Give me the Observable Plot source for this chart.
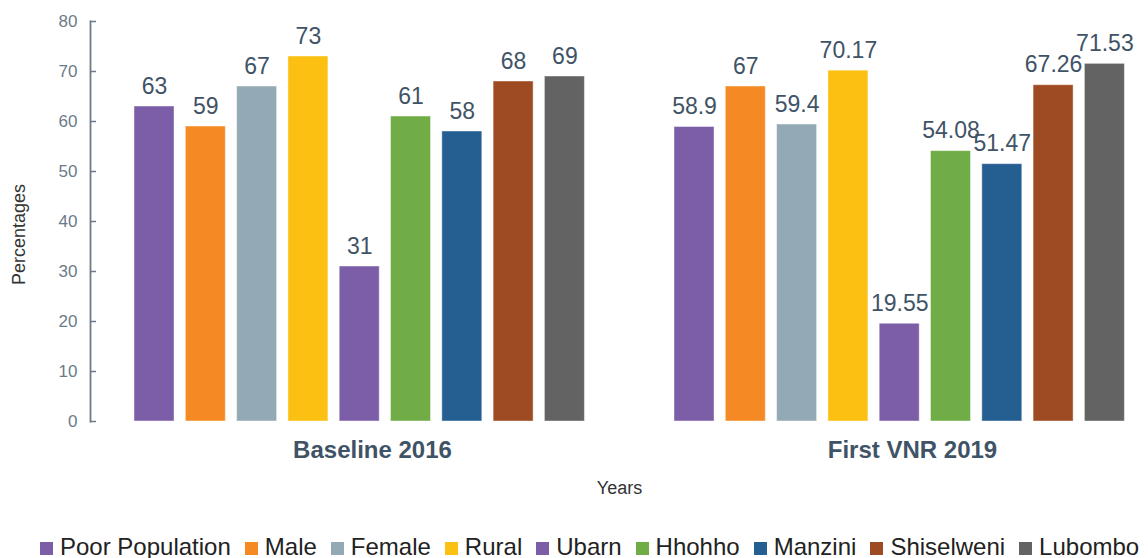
<!DOCTYPE html>
<html><head><meta charset="utf-8">
<script src="https://cdn.jsdelivr.net/npm/d3@7"></script>
<script src="https://cdn.jsdelivr.net/npm/@observablehq/plot@0.6"></script>
<style>
html,body{margin:0;padding:0;background:#fff;overflow:hidden}
body{font-family:"Liberation Sans",Arial,sans-serif;width:1148px;height:558px;position:relative}
#legend{position:absolute;left:40px;top:533px;white-space:nowrap;font-size:24px;color:#222;line-height:28px}
#legend .item{display:inline-flex;align-items:center;margin-right:14px}
#legend .sw{width:13px;height:13px;margin-right:7px;margin-top:3px}
</style></head><body>
<div id="chart"></div>
<div id="legend"></div>
<script>
const years = ["Baseline 2016", "First VNR 2019"];
const categories = ["Poor Population","Male","Female","Rural","Ubarn","Hhohho","Manzini","Shiselweni","Lubombo"];
const baseline2016 = [63, 59, 67, 73, 31, 61, 58, 68, 69];
const firstVNR2019 = [58.9, 67, 59.4, 70.17, 19.55, 54.08, 51.47, 67.26, 71.53];
const colors = ["#7B5EA7","#F58A25","#93A9B5","#FBC012","#7B5EA7","#70AD47","#255E91","#9E4A23","#636363"];
const yTicks = [0, 10, 20, 30, 40, 50, 60, 70, 80];
const yTitle = "Percentages";
const xTitle = "Years";

const series = [baseline2016, firstVNR2019];
const rows = years.flatMap((yr, i) => categories.map((c, j) => ({year: yr, cat: c, value: series[i][j]})));

const chart = Plot.plot({
  width: 1148, height: 520,
  marginTop: 21, marginBottom: 99, marginLeft: 90, marginRight: 0,
  style: {fontFamily: "'Liberation Sans', Arial, sans-serif", background: "white", overflow: "visible"},
  fx: {domain: years, paddingInner: 0.0407, paddingOuter: 0, round: false},
  x: {domain: categories, paddingInner: 0.22, paddingOuter: 0.659, align: 0.651, round: false, axis: null},
  y: {domain: [0, 80], ticks: yTicks},
  color: {domain: categories, range: colors},
  marks: [
    Plot.barY(rows, {fx: "year", x: "cat", y: "value", fill: "cat", stroke: "white", strokeOpacity: 0.45, strokeWidth: 1}),
    Plot.text(rows, {fx: "year", x: "cat", y: "value", text: d => String(d.value), lineAnchor: "bottom", dy: -13, fontSize: 23, fill: "#3F5366"}),
    Plot.axisY({ticks: yTicks, tickSize: -6, tickPadding: 19, fontSize: 17, color: "#6B7B8A", strokeWidth: 1.5, label: null}),
    Plot.frame({anchor: "left", facetAnchor: "left", stroke: "#6B7B8A", strokeWidth: 1.8}),
    Plot.axisFx({anchor: "bottom", tickSize: 0, tickPadding: 19, dx: 23, fontSize: 24, fontWeight: "bold", color: "#3F5366", label: null}),
    Plot.axisFx({anchor: "bottom", ticks: [], tickSize: 0, label: xTitle, labelAnchor: "center", labelArrow: "none", labelOffset: 72, fontSize: 18, color: "#333"}),
    Plot.text([yTitle], {text: d => d, frameAnchor: "left", facetAnchor: "left", textAnchor: "middle", lineAnchor: "middle", rotate: -90, dx: -71, dy: 13, fontSize: 18, fill: "#333"})
  ]
});
document.getElementById("chart").append(chart);

const legend = d3.select("#legend");
categories.forEach((c, i) => {
  const it = legend.append("span").attr("class", "item");
  it.append("span").attr("class", "sw").style("background", colors[i]);
  it.append("span").text(c);
});
</script>
</body></html>
